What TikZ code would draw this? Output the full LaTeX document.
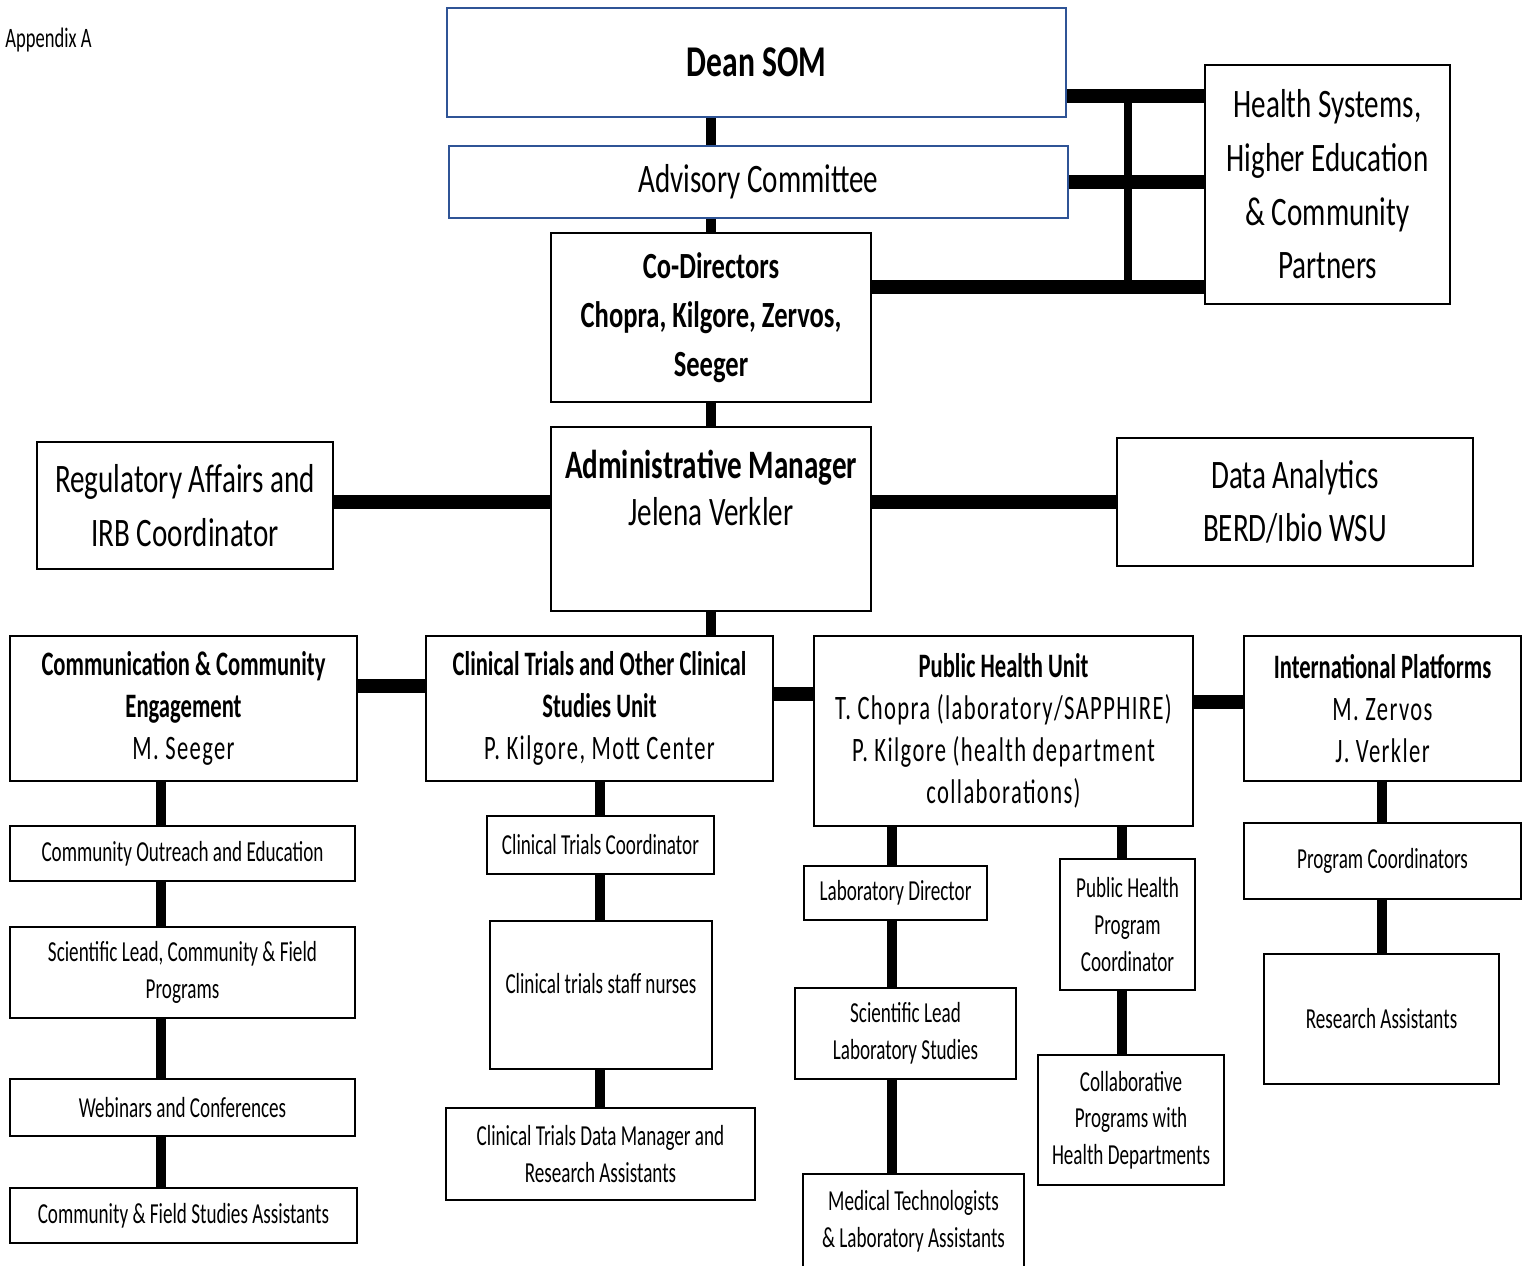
\documentclass[tikz,border=0pt]{standalone}
\usepackage{fontspec}
\setmainfont[FakeStretch=0.72]{Carlito}
\newfontfamily\narrowfont[FakeStretch=0.66]{Carlito}
\newfontfamily\namefont[FakeStretch=0.66,LetterSpace=4]{Carlito}
\definecolor{deanblue}{RGB}{47,84,150}
\tikzset{x=0.02cm, y=-0.02cm,
    box/.style={
        draw,
        line width=1.1pt,
        fill=white,
        align=center,
        inner sep=2pt},
    bluebox/.style={box, draw=deanblue, line width=1.3pt},
    hugetext/.style={font=\fontsize{25}{30}\selectfont},
    largetext/.style={font=\fontsize{23}{30.5}\selectfont},
    admintext/.style={font=\fontsize{23}{27}\selectfont},
    codirtext/.style={font=\fontsize{21}{28}\selectfont},
    headtext/.style={font=\narrowfont\fontsize{19.5}{23.8}\selectfont},
    smalltext/.style={font=\narrowfont\fontsize{16.5}{20.8}\selectfont},
    link/.style={line width=5.5pt},
    wide link/.style={line width=8.5pt}}

\begin{document}
\begin{tikzpicture}
    \useasboundingbox (0,0) rectangle (1530,1266);

    \node[anchor=base west,inner sep=0pt,font=\narrowfont\fontsize{16}{19}\selectfont] (0) at (5,48) {Appendix A};

    % top of the chart
    \node[bluebox,hugetext,minimum width=12.38cm,minimum height=2.18cm] (1) at (756.5,62.5) {\textbf{Dean SOM}};
    \node[bluebox,largetext,minimum width=12.38cm,minimum height=1.44cm] (2) at (758.5,182) {Advisory Committee};
    \node[box,codirtext,minimum width=6.4cm,minimum height=3.38cm] (3) at (711,317.5) {\textbf{Co-Directors}\\\textbf{Chopra, Kilgore, Zervos,}\\\textbf{Seeger}};
    \node[box,largetext,minimum width=4.9cm,minimum height=4.78cm] (4) at (1327.5,184.5) {Health Systems,\\Higher Education\\\& Community\\Partners};
    \node[box,admintext,minimum width=6.4cm,minimum height=3.68cm] (5) at (711,519) {\textbf{Administrative Manager}\\Jelena Verkler\\[0.3cm]\mbox{}};
    \node[box,largetext,minimum width=5.92cm,minimum height=2.54cm] (6) at (185,505.5) {Regulatory Affairs and\\IRB Coordinator};
    \node[box,largetext,minimum width=7.12cm,minimum height=2.56cm] (7) at (1295,502) {Data Analytics\\BERD/Ibio WSU};

    % units
    \node[box,headtext,minimum width=6.94cm,minimum height=2.9cm] (8) at (183.5,708.5) {\textbf{Communication \& Community}\\\textbf{Engagement}\\\namefont M. Seeger};
    \node[box,headtext,minimum width=6.94cm,minimum height=2.9cm] (9) at (599.5,708.5) {\textbf{Clinical Trials and Other Clinical}\\\textbf{Studies Unit}\\\namefont P. Kilgore, Mott Center};
    \node[box,headtext,minimum width=7.58cm,minimum height=3.8cm] (10) at (1003.5,731) {\textbf{Public Health Unit}\\\namefont T. Chopra (laboratory/SAPPHIRE)\\\namefont P. Kilgore (health department\\\namefont collaborations)};
    \node[box,headtext,minimum width=5.54cm,minimum height=2.9cm] (11) at (1382.5,708.5) {\textbf{International Platforms}\\\namefont M. Zervos\\\namefont J. Verkler};

    % staff
    \node[box,smalltext,minimum width=6.9cm,minimum height=1.1cm] (12) at (182.5,853.5) {Community Outreach and Education};
    \node[box,smalltext,minimum width=6.9cm,minimum height=1.82cm] (13) at (182.5,972.5) {Scientific Lead, Community \& Field\\Programs};
    \node[box,smalltext,minimum width=6.9cm,minimum height=1.14cm] (14) at (182.5,1107.5) {Webinars and Conferences};
    \node[box,smalltext,minimum width=6.94cm,minimum height=1.1cm] (15) at (183.5,1215.5) {Community \& Field Studies Assistants};
    \node[box,smalltext,minimum width=4.54cm,minimum height=1.16cm] (16) at (600.5,845) {Clinical Trials Coordinator};
    \node[box,smalltext,minimum width=4.44cm,minimum height=2.96cm] (17) at (601,995) {Clinical trials staff nurses\\[-0.25cm]\mbox{}};
    \node[box,smalltext,minimum width=6.18cm,minimum height=1.84cm] (18) at (600.5,1154) {Clinical Trials Data Manager and\\Research Assistants};
    \node[box,smalltext,minimum width=3.66cm,minimum height=1.08cm] (19) at (895.5,893) {Laboratory Director};
    \node[box,smalltext,minimum width=4.42cm,minimum height=1.82cm] (20) at (905.5,1033.5) {Scientific Lead\\Laboratory Studies};
    \node[box,smalltext,anchor=north,minimum width=4.42cm,minimum height=2.4cm] (21) at (913.5,1173) {Medical Technologists\\\& Laboratory Assistants\\[-0.13cm]\mbox{}};
    \node[box,smalltext,minimum width=2.7cm,minimum height=2.62cm] (22) at (1127.5,924.5) {Public Health\\Program\\Coordinator};
    \node[box,smalltext,minimum width=3.72cm,minimum height=2.6cm] (23) at (1131,1120) {Collaborative\\Programs with\\Health Departments};
    \node[box,smalltext,minimum width=5.54cm,minimum height=1.52cm] (24) at (1382.5,861) {Program Coordinators};
    \node[box,smalltext,minimum width=4.7cm,minimum height=2.6cm] (25) at (1381.5,1019) {Research Assistants};

    % joints of the connectors
    \coordinate (p1) at (1128,96);
    \coordinate (p2) at (1128,182);
    \coordinate (p3) at (1128,287);
    \coordinate (mid) at (711,502);
    \coordinate (rowa) at (0,686);
    \coordinate (rowb) at (0,694);
    \coordinate (rowc) at (0,702);
    \coordinate (cola) at (161,0);
    \coordinate (colb) at (600,0);
    \coordinate (colc) at (892,0);
    \coordinate (cold) at (1122,0);
    \coordinate (cole) at (1382,0);

    % connectors
    \draw[link] (1.south -| 3) -- (2.north -| 3);
    \draw[link] (2.south -| 3) -- (3.north);
    \draw[link] (3.south) -- (5.north);
    \draw[link] (5.south) -- (5.south |- 9.north);
    \draw[wide link] (p1 -| 1.east) -- (p1 -| 4.west);
    \draw[wide link] (2.east) -- (p2 -| 4.west);
    \draw[wide link] (p3 -| 3.east) -- (p3 -| 4.west);
    \draw[line width=5pt] (p1) -- (p3);
    \draw[wide link] (6.east |- mid) -- (5.west |- mid);
    \draw[wide link] (5.east |- mid) -- (7.west);
    \draw[wide link] (8.east |- rowa) -- (9.west |- rowa);
    \draw[wide link] (9.east |- rowb) -- (10.west |- rowb);
    \draw[wide link] (10.east |- rowc) -- (11.west |- rowc);
    \foreach \a/\b in {8/12,12/13,13/14,14/15}
        \draw[link] (\a.south -| cola) -- (\b.north -| cola);
    \foreach \a/\b in {9/16,16/17,17/18}
        \draw[link] (\a.south -| colb) -- (\b.north -| colb);
    \foreach \a/\b in {10/19,19/20,20/21}
        \draw[link] (\a.south -| colc) -- (\b.north -| colc);
    \foreach \a/\b in {10/22,22/23}
        \draw[link] (\a.south -| cold) -- (\b.north -| cold);
    \foreach \a/\b in {11/24,24/25}
        \draw[link] (\a.south -| cole) -- (\b.north -| cole);
\end{tikzpicture}
\end{document}
